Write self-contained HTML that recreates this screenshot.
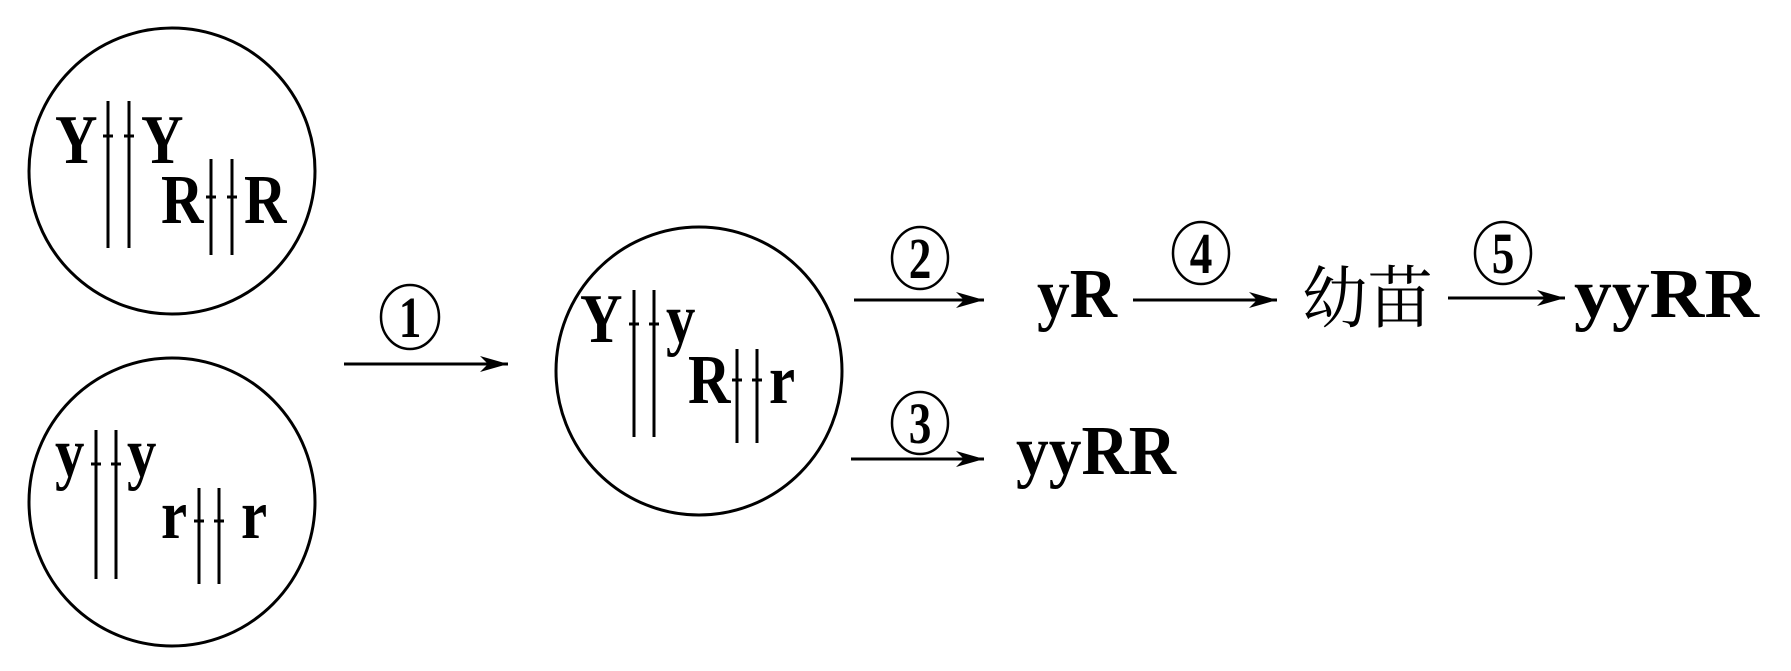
<!DOCTYPE html>
<html><head><meta charset="utf-8"><style>
html,body{margin:0;padding:0;background:#fff;}
svg{display:block;}
text{font-family:"Liberation Serif","Noto Serif CJK SC",serif;font-weight:bold;fill:#000;}
</style></head><body>
<svg width="1791" height="671" viewBox="0 0 1791 671" xmlns="http://www.w3.org/2000/svg">
<defs><marker id="ah" markerWidth="30" markerHeight="20" refX="28" refY="10" orient="auto" markerUnits="userSpaceOnUse"><path d="M0,2 L28,10 L0,18 L8,10 Z" fill="#000"/></marker></defs>
<g fill="none" stroke="#000" stroke-width="3">
<ellipse cx="172" cy="171" rx="143" ry="143"/>
<ellipse cx="172" cy="502" rx="143" ry="144"/>
<ellipse cx="699" cy="371" rx="143" ry="144"/>
</g>
<g stroke="#000" stroke-width="3">
<line x1="108" y1="101" x2="108" y2="248"/><line x1="129" y1="101" x2="129" y2="248"/>
<line x1="103" y1="136" x2="113" y2="136"/><line x1="124" y1="136" x2="134" y2="136"/>
<line x1="211" y1="159" x2="211" y2="255"/><line x1="232" y1="159" x2="232" y2="255"/>
<line x1="206" y1="197" x2="216" y2="197"/><line x1="227" y1="197" x2="237" y2="197"/>
<line x1="96" y1="430" x2="96" y2="579"/><line x1="116" y1="430" x2="116" y2="579"/>
<line x1="91" y1="464" x2="101" y2="464"/><line x1="111" y1="464" x2="121" y2="464"/>
<line x1="199" y1="488" x2="199" y2="584"/><line x1="219" y1="488" x2="219" y2="584"/>
<line x1="194" y1="521" x2="204" y2="521"/><line x1="214" y1="521" x2="224" y2="521"/>
<line x1="634" y1="290" x2="634" y2="437"/><line x1="654" y1="290" x2="654" y2="437"/>
<line x1="629" y1="324" x2="639" y2="324"/><line x1="649" y1="324" x2="659" y2="324"/>
<line x1="737" y1="349" x2="737" y2="443"/><line x1="757" y1="349" x2="757" y2="443"/>
<line x1="732" y1="380" x2="742" y2="380"/><line x1="752" y1="380" x2="762" y2="380"/>
<line x1="344" y1="364" x2="508" y2="364" marker-end="url(#ah)"/>
<line x1="854" y1="300" x2="984" y2="300" marker-end="url(#ah)"/>
<line x1="1133" y1="300" x2="1277" y2="300" marker-end="url(#ah)"/>
<line x1="1448" y1="298" x2="1565" y2="298" marker-end="url(#ah)"/>
<line x1="851" y1="459" x2="984" y2="459" marker-end="url(#ah)"/>
</g>
<g font-size="70">
<text transform="matrix(0.84,0,0,1,55,163)">Y</text><text transform="matrix(0.84,0,0,1,141,163)">Y</text>
<text transform="matrix(0.84,0,0,1,161,223)">R</text><text transform="matrix(0.84,0,0,1,244,223)">R</text>
<text transform="matrix(0.84,0,0,1,55,476)">y</text><text transform="matrix(0.84,0,0,1,127,476)">y</text>
<text transform="matrix(0.84,0,0,1,161,538)">r</text><text transform="matrix(0.84,0,0,1,241,538)">r</text>
<text transform="matrix(0.84,0,0,1,580,342)">Y</text><text transform="matrix(0.84,0,0,1,666,342)">y</text>
<text transform="matrix(0.84,0,0,1,688,403)">R</text><text transform="matrix(0.84,0,0,1,769,403)">r</text>
<text x="1037" y="317" textLength="80" lengthAdjust="spacingAndGlyphs">yR</text>
<text x="1574" y="317" textLength="185" lengthAdjust="spacingAndGlyphs">yyRR</text>
<text x="1016" y="474" textLength="160" lengthAdjust="spacingAndGlyphs">yyRR</text>
</g>
<text x="1302" y="322" font-size="68" style="font-weight:normal;font-family:'Noto Serif CJK SC',serif" textLength="131" lengthAdjust="spacingAndGlyphs">幼苗</text>
<g fill="none" stroke="#000" stroke-width="2.5">
<ellipse cx="410" cy="317" rx="29" ry="32"/>
<ellipse cx="920" cy="258" rx="28" ry="31"/>
<ellipse cx="1201" cy="253" rx="28" ry="31"/>
<ellipse cx="1503" cy="253" rx="28" ry="31"/>
<ellipse cx="920" cy="423" rx="28" ry="31"/>
</g>
<g font-size="58" text-anchor="middle">
<text transform="matrix(0.78,0,0,1,410,337)">1</text>
<text transform="matrix(0.78,0,0,1,920,278)">2</text>
<text transform="matrix(0.78,0,0,1,1201,273)">4</text>
<text transform="matrix(0.78,0,0,1,1503,273)">5</text>
<text transform="matrix(0.78,0,0,1,920,443)">3</text>
</g>
</svg>
</body></html>
